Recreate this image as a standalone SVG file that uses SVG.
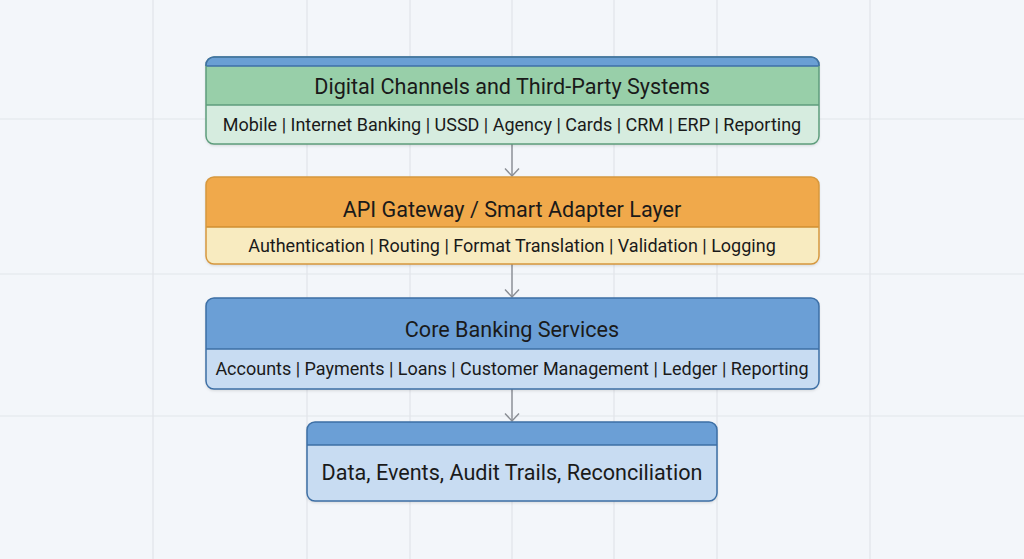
<svg xmlns="http://www.w3.org/2000/svg" width="1024" height="559" viewBox="0 0 1024 559">
  <defs>
    <style>
      .grid { stroke: #e1e5ea; stroke-width: 1.2; }
      .title { font-family: Roboto, "Liberation Sans", sans-serif; font-size: 21.6px; fill: #1a1a1a; text-anchor: middle; }
      .sub { font-family: Roboto, "Liberation Sans", sans-serif; font-size: 18px; fill: #1a1a1a; text-anchor: middle; }
      .conn { stroke: #8a8e94; stroke-width: 1.4; fill: none; }
    </style>
    <marker id="arr" markerWidth="10" markerHeight="16" refX="8.5" refY="8" orient="auto" markerUnits="userSpaceOnUse" viewBox="0 0 10 16">
      <path d="M1 1 L8.5 8 L1 15" fill="none" stroke="#8a8e94" stroke-width="1.4"/>
    </marker>
    <filter id="sh" x="-5%" y="-10%" width="110%" height="130%">
      <feDropShadow dx="0" dy="1.5" stdDeviation="1.5" flood-color="#000" flood-opacity="0.15"/>
    </filter>
    <clipPath id="c1"><rect x="206" y="57" width="613" height="87" rx="8"/></clipPath>
    <clipPath id="c2"><rect x="206" y="177" width="613" height="87" rx="8"/></clipPath>
    <clipPath id="c3"><rect x="206" y="298" width="613" height="91" rx="8"/></clipPath>
    <clipPath id="c4"><rect x="307" y="422" width="410" height="79" rx="8"/></clipPath>
  </defs>
  <rect width="1024" height="559" fill="#f3f6fa"/>
  <g id="grid">
    <line class="grid" x1="153" y1="0" x2="153" y2="559"/>
    <line class="grid" x1="307" y1="0" x2="307" y2="559"/>
    <line class="grid" x1="410" y1="0" x2="410" y2="559"/>
    <line class="grid" x1="512" y1="0" x2="512" y2="559"/>
    <line class="grid" x1="614" y1="0" x2="614" y2="559"/>
    <line class="grid" x1="717" y1="0" x2="717" y2="559"/>
    <line class="grid" x1="870" y1="0" x2="870" y2="559"/>
    <line class="grid" x1="0" y1="119" x2="1024" y2="119"/>
    <line class="grid" x1="0" y1="274" x2="1024" y2="274"/>
    <line class="grid" x1="0" y1="416" x2="1024" y2="416"/>
  </g>
  <g id="connectors">
    <line class="conn" x1="512" y1="144" x2="512" y2="176" marker-end="url(#arr)"/>
    <line class="conn" x1="512" y1="264" x2="512" y2="297" marker-end="url(#arr)"/>
    <line class="conn" x1="512" y1="389" x2="512" y2="421" marker-end="url(#arr)"/>
  </g>
  <g id="node-channels">
    <rect x="206" y="57" width="613" height="87" rx="8" fill="#d6ecdf" filter="url(#sh)"/>
    <g clip-path="url(#c1)">
      <rect x="206" y="57" width="613" height="9" fill="#6a9fd4"/>
      <rect x="206" y="66" width="613" height="39" fill="#98cfa9"/>
      <line x1="206" y1="66" x2="819" y2="66" stroke="#3f6fa8" stroke-width="1.5"/>
      <line x1="206" y1="105" x2="819" y2="105" stroke="#5e9d7c" stroke-width="1.5"/>
    </g>
    <rect x="206" y="57" width="613" height="87" rx="8" fill="none" stroke="#5e9d7c" stroke-width="1.5"/>
    <path d="M206 66 V65 A8 8 0 0 1 214 57 H811 A8 8 0 0 1 819 65 V66" fill="none" stroke="#3f6fa8" stroke-width="1.5"/>
    <text class="title" x="512" y="94">Digital Channels and Third-Party Systems</text>
    <text class="sub" x="512" y="130.5">Mobile | Internet Banking | USSD | Agency | Cards | CRM | ERP | Reporting</text>
  </g>
  <g id="node-gateway">
    <rect x="206" y="177" width="613" height="87" rx="8" fill="#f8ebc0" filter="url(#sh)"/>
    <g clip-path="url(#c2)">
      <rect x="206" y="177" width="613" height="50" fill="#f0a94b"/>
      <line x1="206" y1="227" x2="819" y2="227" stroke="#d18f31" stroke-width="1.5"/>
    </g>
    <rect x="206" y="177" width="613" height="87" rx="8" fill="none" stroke="#d6983e" stroke-width="1.5"/>
    <text class="title" x="512" y="217">API Gateway / Smart Adapter Layer</text>
    <text class="sub" x="512" y="251.5">Authentication | Routing | Format Translation | Validation | Logging</text>
  </g>
  <g id="node-core">
    <rect x="206" y="298" width="613" height="91" rx="8" fill="#c8dcf2" filter="url(#sh)"/>
    <g clip-path="url(#c3)">
      <rect x="206" y="298" width="613" height="51" fill="#6b9fd6"/>
      <line x1="206" y1="349" x2="819" y2="349" stroke="#3d6fa5" stroke-width="1.5"/>
    </g>
    <rect x="206" y="298" width="613" height="91" rx="8" fill="none" stroke="#3d6fa5" stroke-width="1.5"/>
    <text class="title" x="512" y="337">Core Banking Services</text>
    <text class="sub" x="512" y="374.5">Accounts | Payments | Loans | Customer Management | Ledger | Reporting</text>
  </g>
  <g id="node-data">
    <rect x="307" y="422" width="410" height="79" rx="8" fill="#c8dcf2" filter="url(#sh)"/>
    <g clip-path="url(#c4)">
      <rect x="307" y="422" width="410" height="23" fill="#6b9fd6"/>
      <line x1="307" y1="445" x2="717" y2="445" stroke="#3d6fa5" stroke-width="1.5"/>
    </g>
    <rect x="307" y="422" width="410" height="79" rx="8" fill="none" stroke="#3d6fa5" stroke-width="1.5"/>
    <text class="title" x="512" y="480">Data, Events, Audit Trails, Reconciliation</text>
  </g>
</svg>
